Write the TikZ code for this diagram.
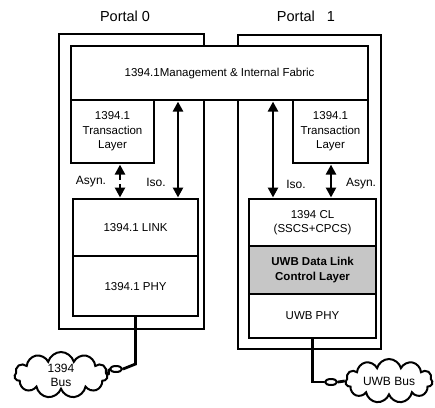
\documentclass[tikz,border=0pt]{standalone}
\usepackage{fontspec}
\setmainfont{Liberation Sans}
\usetikzlibrary{arrows.meta,shapes.symbols,shapes.geometric}
\begin{document}
\begin{tikzpicture}[x=1pt,y=-1pt,
  box/.style={draw, line width=2.1pt, fill=white, inner sep=0pt, anchor=north west, align=center, font=\fontsize{11.5}{14.5}\selectfont},
  portal/.style={draw, line width=2.1pt, fill=white, inner sep=0pt, anchor=north west},
  title/.style={font=\fontsize{14.5}{17}\selectfont},
  lbl/.style={font=\fontsize{12}{14}\selectfont},
  dbl/.style={line width=2.8pt, {Triangle[width=10pt,length=10pt]}-{Triangle[width=10pt,length=10pt]}, shorten <=0.5pt, shorten >=0.5pt},
  cable/.style={line width=2.8pt},
  busc/.style={cloud, cloud puffs=11, cloud ignores aspect, draw, line width=2pt, fill=white, inner sep=0pt, align=center, font=\fontsize{12}{14}\selectfont},
  plug/.style={ellipse, draw, line width=2pt, fill=white, inner sep=0pt, minimum width=12pt, minimum height=6pt}
]
\useasboundingbox (0,0) rectangle (435,407);
% titles
\node[title] (t0) at (125,16) {Portal 0};
\node[title] (t1) at (306,16) {Portal\ \ \ 1};
% portals
\node[portal, minimum width=145pt, minimum height=295pt] (p0) at (58,33) {};
\node[portal, minimum width=143pt, minimum height=314pt] (p1) at (237,34) {};
% management
\node[box, minimum width=297pt, minimum height=54pt] (mgmt) at (70,45) {1394.1Management \& Internal Fabric};
% transaction layers
\node[box, minimum width=83pt, minimum height=63pt] (tl0) at (70,99) {1394.1\\Transaction\\Layer};
\node[box, minimum width=75pt, minimum height=63pt] (tl1) at (292,99) {1394.1\\Transaction\\Layer};
% left stack
\node[box, minimum width=125pt, minimum height=57pt] (link) at (72,198) {1394.1 LINK};
\node[box, minimum width=125pt, minimum height=60pt] (phy0) at (72,255) {1394.1 PHY};
% right stack
\node[box, minimum width=127pt, minimum height=47pt] (cl) at (248,198) {1394 CL\\(SSCS+CPCS)};
\node[box, minimum width=127pt, minimum height=48pt, fill=gray!45, font=\fontsize{11.5}{14.5}\selectfont\bfseries] (dlc) at (248,245) {UWB Data Link\\Control Layer};
\node[box, minimum width=127pt, minimum height=44pt] (phy1) at (248,293) {UWB PHY};
% arrow positions
\coordinate (isoL) at (178,0);
\coordinate (asL) at (120,0);
\coordinate (isoR) at (273,0);
\coordinate (asR) at (331,0);
\draw[dbl] (isoL |- mgmt.south) -- (isoL |- link.north);
\draw[dbl, dash pattern=on 6pt off 4pt] (asL |- tl0.south) -- (asL |- link.north);
\draw[dbl] (isoR |- mgmt.south) -- (isoR |- cl.north);
\draw[dbl] (asR |- tl1.south) -- (asR |- cl.north);
% labels
\node[lbl] (la0) at (91,182) {Asyn.};
\node[lbl] (li0) at (156,182) {Iso.};
\node[lbl] (li1) at (296,184) {Iso.};
\node[lbl] (la1) at (361,184) {Asyn.};
% buses
\node[busc, minimum width=93pt, minimum height=46pt] (bus0) at (61,375) {1394\\Bus};
\node[busc, minimum width=87pt, minimum height=44pt] (bus1) at (389,381) {UWB Bus};
\node[plug] (plug0) at (116,369) {};
\node[plug] (plug1) at (331,382) {};
\coordinate (k0) at (133,364);
\draw[cable] (phy0.south) -- (phy0.south |- k0) -- (plug0.east);
\draw[cable] (plug0.west) -- (bus0.east);
\draw[cable] (phy1.south) |- (plug1.west);
\draw[cable] (plug1.east) -- (bus1.west);
\end{tikzpicture}
\end{document}
